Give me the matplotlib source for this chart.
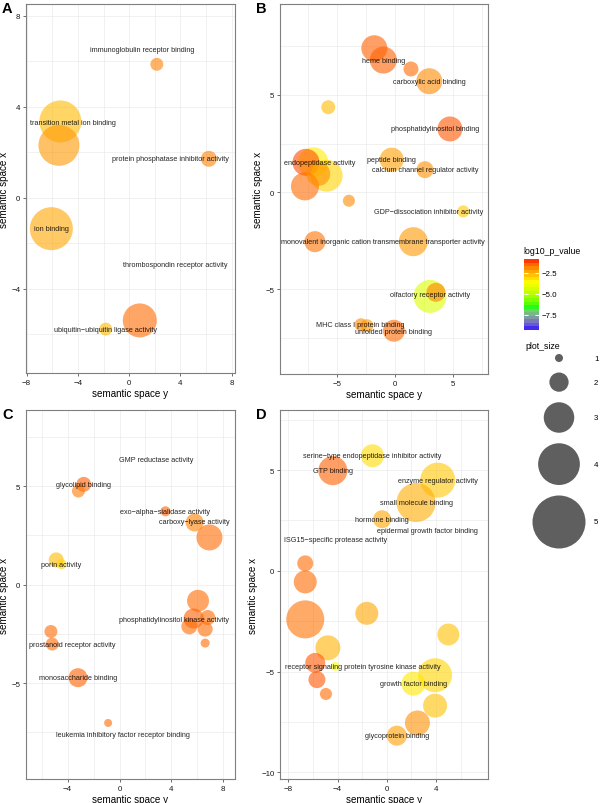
import numpy as np
import matplotlib
matplotlib.use('Agg')
import matplotlib.pyplot as plt
import matplotlib.colors as mcolors
from matplotlib.cm import ScalarMappable

plt.rcParams['font.family'] = ['Liberation Sans', 'DejaVu Sans']

# ---- data ----
# panel A
a_x = [2.16, -5.37, -5.48, 6.22, -6.07, 0.83, -1.83]
a_y = [5.86, 3.35, 2.30, 1.71, -1.36, -5.39, -5.77]
a_size = [1.44, 4.02, 3.93, 1.71, 4.11, 3.31, 1.44]
a_logp = [-1.8, -2.6, -2.1, -1.8, -2.3, -1.5, -2.6]
a_labels = ['immunoglobulin receptor binding', 'transition metal ion binding',
            'protein phosphatase inhibitor activity', 'ion binding',
            'thrombospondin receptor activity', 'ubiquitin\u2212ubiquitin ligase activity']
a_lab_x = [1.04, -4.38, 3.25, -6.07, 3.56, -1.83]
a_lab_y = [6.52, 3.31, 1.71, -1.36, -2.95, -5.77]

# panel B
b_x = [-1.78, -1.0, 1.38, 2.96, -5.75, 4.74, -0.28, 2.59, -7.04, -7.67, -5.89, -7.76,
       -6.61, -3.97, 5.89, -6.90, 1.58, 3.02, 3.53, -2.93, -2.41, -0.09]
b_y = [7.41, 6.80, 6.34, 5.71, 4.37, 3.25, 1.67, 1.15, 1.53, 1.53, 0.84, 0.29,
       0.93, -0.45, -1.0, -2.56, -2.56, -5.38, -5.17, -6.84, -6.89, -7.15]
b_size = [2.6, 2.69, 1.62, 2.6, 1.53, 2.51, 2.42, 1.8, 2.96, 2.69, 3.13, 2.78,
          2.42, 1.36, 1.36, 2.16, 2.87, 3.22, 1.98, 1.44, 1.44, 2.24]
b_logp = [-1.4, -1.4, -1.5, -1.9, -2.6, -1.3, -2.2, -2.0, -3.4, -1.2, -3.0, -1.5,
          -2.0, -1.9, -2.8, -1.6, -2.1, -4.3, -1.8, -1.9, -2.1, -1.5]
b_labels = ['heme binding', 'carboxylic acid binding', 'phosphatidylinositol binding',
            'peptide binding', 'calcium channel regulator activity', 'endopeptidase activity',
            'GDP\u2212dissociation inhibitor activity',
            'monovalent inorganic cation transmembrane transporter activity',
            'olfactory receptor activity', 'MHC class I protein binding',
            'unfolded protein binding']
b_lab_x = [-1.0, 2.96, 3.45, -0.28, 2.59, -6.52, 2.93, -1.0, 3.02, -3.02, -0.09]
b_lab_y = [6.80, 5.71, 3.25, 1.69, 1.16, 1.53, -1.0, -2.56, -5.26, -6.82, -7.2]

# panel C
c_x = [-2.76, -3.17, 3.54, 5.79, 6.93, -4.88, -4.47, 6.05, 5.71, 6.8, 5.38, 6.6, 6.6,
       -5.29, -5.19, -3.2, -0.88]
c_y = [5.10, 4.76, 3.73, 3.16, 2.40, 1.26, 1.04, -0.82, -1.72, -1.67, -2.12, -2.26, -2.97,
       -2.38, -3.02, -4.73, -7.03]
c_size = [1.62, 1.44, 1.18, 1.89, 2.6, 1.62, 1.18, 2.24, 2.07, 1.62, 1.71, 1.62, 1.09,
          1.44, 1.44, 1.98, 1.0]
c_logp = [-1.4, -1.7, -1.4, -1.8, -1.5, -2.6, -3.0, -1.5, -1.4, -1.5, -1.5, -1.5, -1.5,
          -1.5, -1.5, -1.4, -1.5]
c_labels = ['GMP reductase activity', 'glycolipid binding', 'exo\u2212alpha\u2212sialidase activity',
            'carboxy\u2212lyase activity', 'porin activity', 'phosphatidylinositol kinase activity',
            'prostanoid receptor activity', 'monosaccharide binding',
            'leukemia inhibitory factor receptor binding']
c_lab_x = [2.80, -2.74, 3.54, 5.79, -4.47, 4.22, -3.64, -3.2, 0.29]
c_lab_y = [6.34, 5.10, 3.73, 3.19, 1.04, -1.75, -3.02, -4.73, -7.6]

# panel D
d_x = [-1.16, -4.38, 4.14, 2.38, -0.38, -6.62, -6.62, -6.62, -1.62, -4.78, -5.81, -4.19,
       -5.67, -4.94, 5.0, 3.92, 2.16, 3.92, 2.49, 0.82]
d_y = [5.71, 4.97, 4.5, 3.39, 2.56, 0.37, -0.55, -2.41, -2.11, -3.82, -4.57, -4.74,
       -5.40, -6.11, -3.16, -5.18, -5.60, -6.69, -7.55, -8.18]
d_size = [2.33, 2.87, 3.4, 3.76, 1.89, 1.71, 2.33, 3.67, 2.33, 2.51, 2.07, 1.09,
          1.8, 1.36, 2.24, 3.31, 2.42, 2.42, 2.51, 2.07]
d_logp = [-3.1, -1.4, -2.8, -2.4, -2.3, -1.5, -1.5, -1.6, -2.3, -2.5, -1.3, -3.7,
          -1.3, -1.5, -2.7, -3.0, -3.3, -2.7, -2.0, -2.2]
d_labels = ['serine\u2212type endopeptidase inhibitor activity', 'GTP binding',
            'enzyme regulator activity', 'small molecule binding', 'hormone binding',
            'epidermal growth factor binding', 'ISG15\u2212specific protease activity',
            'receptor signaling protein tyrosine kinase activity', 'growth factor binding',
            'glycoprotein binding']
d_lab_x = [-1.16, -4.38, 4.14, 2.38, -0.38, 3.30, -4.16, -1.94, 2.16, 0.82]
d_lab_y = [5.71, 4.97, 4.5, 3.39, 2.56, 1.98, 1.53, -4.77, -5.60, -8.18]

logp_limits = (-9.3, -0.83)
size_breaks = [1, 2, 3, 4, 5]
gradient = ['#0000FF', '#00FF00', '#FFFF00', '#FF0000']

# ---- colour ramp interpolated in CIELAB (like ggplot's gradientn) ----
WHITE = np.array([0.95047, 1.0, 1.08883])
M = np.array([[0.4124564, 0.3575761, 0.1804375],
              [0.2126729, 0.7151522, 0.0721750],
              [0.0193339, 0.1191920, 0.9503041]])


def rgb_to_lab(rgb):
    rgb = np.asarray(rgb, float)
    lin = np.where(rgb > 0.04045, ((rgb + 0.055) / 1.055) ** 2.4, rgb / 12.92)
    xyz = lin @ M.T / WHITE
    f = np.where(xyz > 0.008856, np.cbrt(xyz), 7.787 * xyz + 16 / 116)
    return np.stack([116 * f[..., 1] - 16, 500 * (f[..., 0] - f[..., 1]),
                     200 * (f[..., 1] - f[..., 2])], axis=-1)


def lab_to_rgb(lab):
    fy = (lab[..., 0] + 16) / 116
    f = np.stack([fy + lab[..., 1] / 500, fy, fy - lab[..., 2] / 200], axis=-1)
    xyz = np.where(f > 0.206893, f ** 3, (f - 16 / 116) / 7.787) * WHITE
    lin = np.clip(xyz @ np.linalg.inv(M).T, 0, 1)
    rgb = np.where(lin > 0.0031308, 1.055 * lin ** (1 / 2.4) - 0.055, 12.92 * lin)
    return np.clip(rgb, 0, 1)


def ramp(n):
    anchors = rgb_to_lab([mcolors.to_rgb(c) for c in gradient])
    t = (np.arange(n) + 0.5) / n
    pos = np.linspace(0, 1, len(gradient))
    lab = np.stack([np.interp(t, pos, anchors[:, k]) for k in range(3)], axis=-1)
    return mcolors.ListedColormap(lab_to_rgb(lab))


cmap = ramp(256)
bar_cmap = ramp(20)
norm = mcolors.Normalize(*logp_limits)

DPI = 100


def point_area(v):
    d_px = -3.25 + 11.25 * np.asarray(v, float)
    return (d_px * 72 / DPI) ** 2


def px_rect(l, t, r, b):
    return [l / 600, 1 - b / 804, (r - l) / 600, (b - t) / 804]


def minor_ticks(major, step, lim):
    # halfway between major ticks, inside the limits
    m = np.arange(major[0] - step * 2.5, lim[1] + step, step)
    return m[(m > lim[0]) & (m < lim[1])]


fig = plt.figure(figsize=(6, 8.04), dpi=DPI)

panels = [
    ('A', (26, 5, 235, 374), a_x, a_y, a_size, a_logp, a_labels, a_lab_x, a_lab_y,
     (-8.05, 8.26), (-7.70, 8.51), [-8, -4, 0, 4, 8], [-4, 0, 4, 8], 4, 4),
    ('B', (280, 5, 488, 375), b_x, b_y, b_size, b_logp, b_labels, b_lab_x, b_lab_y,
     (-9.91, 8.02), (-9.38, 9.69), [-5, 0, 5], [-5, 0, 5], 5, 5),
    ('C', (26, 411, 235, 780), c_x, c_y, c_size, c_logp, c_labels, c_lab_x, c_lab_y,
     (-7.21, 8.9), (-9.88, 8.88), [-4, 0, 4, 8], [-5, 0, 5], 4, 5),
    ('D', (280, 411, 488, 780), d_x, d_y, d_size, d_logp, d_labels, d_lab_x, d_lab_y,
     (-8.67, 8.22), (-10.33, 7.98), [-8, -4, 0, 4], [-10, -5, 0, 5], 4, 5),
]

for (letter, rect, x, y, size, logp, labels, lx, ly, xlim, ylim,
     xt, yt, xstep, ystep) in panels:
    ax = fig.add_axes(px_rect(*rect))
    ax.scatter(x, y, s=point_area(size), c=logp, cmap=cmap, norm=norm,
               alpha=0.6, linewidths=0, zorder=2)
    for t, tx, ty in zip(labels, lx, ly):
        ax.text(tx, ty, t, ha='center', va='center', fontsize=5.2,
                color='black', alpha=0.85, zorder=3)
    ax.set_xticks(xt)
    ax.set_yticks(yt)
    ax.set_xticks(minor_ticks(xt, xstep, xlim), minor=True)
    ax.set_yticks(minor_ticks(yt, ystep, ylim), minor=True)
    ax.set_xlim(xlim)
    ax.set_ylim(ylim)
    ax.grid(True, which='both', color='#EBEBEB', lw=0.5, zorder=0)
    ax.set_axisbelow(True)
    for sp in ax.spines.values():
        sp.set_color('#7F7F7F')
        sp.set_linewidth(0.8)
    ax.tick_params(which='major', length=2.2, width=0.5, color='#333333',
                   labelsize=5.7, pad=1.8, labelcolor='#1a1a1a')
    ax.tick_params(which='minor', length=0)
    ax.set_xlabel('semantic space y', fontsize=7.1, labelpad=1.5)
    ax.set_ylabel('semantic space x', fontsize=7.1, labelpad=2)
    fig.text((rect[0] - 24) / 600, 1 - (rect[1] - 3) / 804, letter,
             fontsize=10.5, fontweight='bold', ha='left', va='top')

# ---- colour legend ----
fig.text(523 / 600, 1 - 252 / 804, 'log10_p_value', fontsize=6.3, va='center')
cax = fig.add_axes(px_rect(524, 260, 539, 331))
cb = fig.colorbar(ScalarMappable(norm=norm, cmap=bar_cmap), cax=cax)
cb.outline.set_visible(False)
cb.set_ticks([-2.5, -5.0, -7.5])
cb.set_ticklabels(['\u22122.5', '\u22125.0', '\u22127.5'])
cax.tick_params(length=3, width=0.8, color='white', direction='in',
                left=True, right=True, labelsize=5.7, pad=2)

# ---- size legend ----
fig.text(525 / 600, 1 - 347 / 804, 'plot_size', fontsize=6.3, va='center')
lax = fig.add_axes(px_rect(490, 335, 600, 560))
lax.set_xlim(490, 600)
lax.set_ylim(560, 335)
lax.axis('off')
diam = -3.25 + 11.25 * np.array(size_breaks, float)
key_y = [359.0]
for i in range(1, len(diam)):
    key_y.append(key_y[-1] + (diam[i - 1] + diam[i]) / 2 + 10.5)
lax.scatter([559] * len(size_breaks), key_y, s=point_area(size_breaks),
            color='#5f5f5f', linewidths=0, clip_on=False)
for v, ky in zip(size_breaks, key_y):
    lax.text(594, ky, str(v), fontsize=5.7, va='center', ha='left')

fig.savefig('out.png', dpi=DPI)
